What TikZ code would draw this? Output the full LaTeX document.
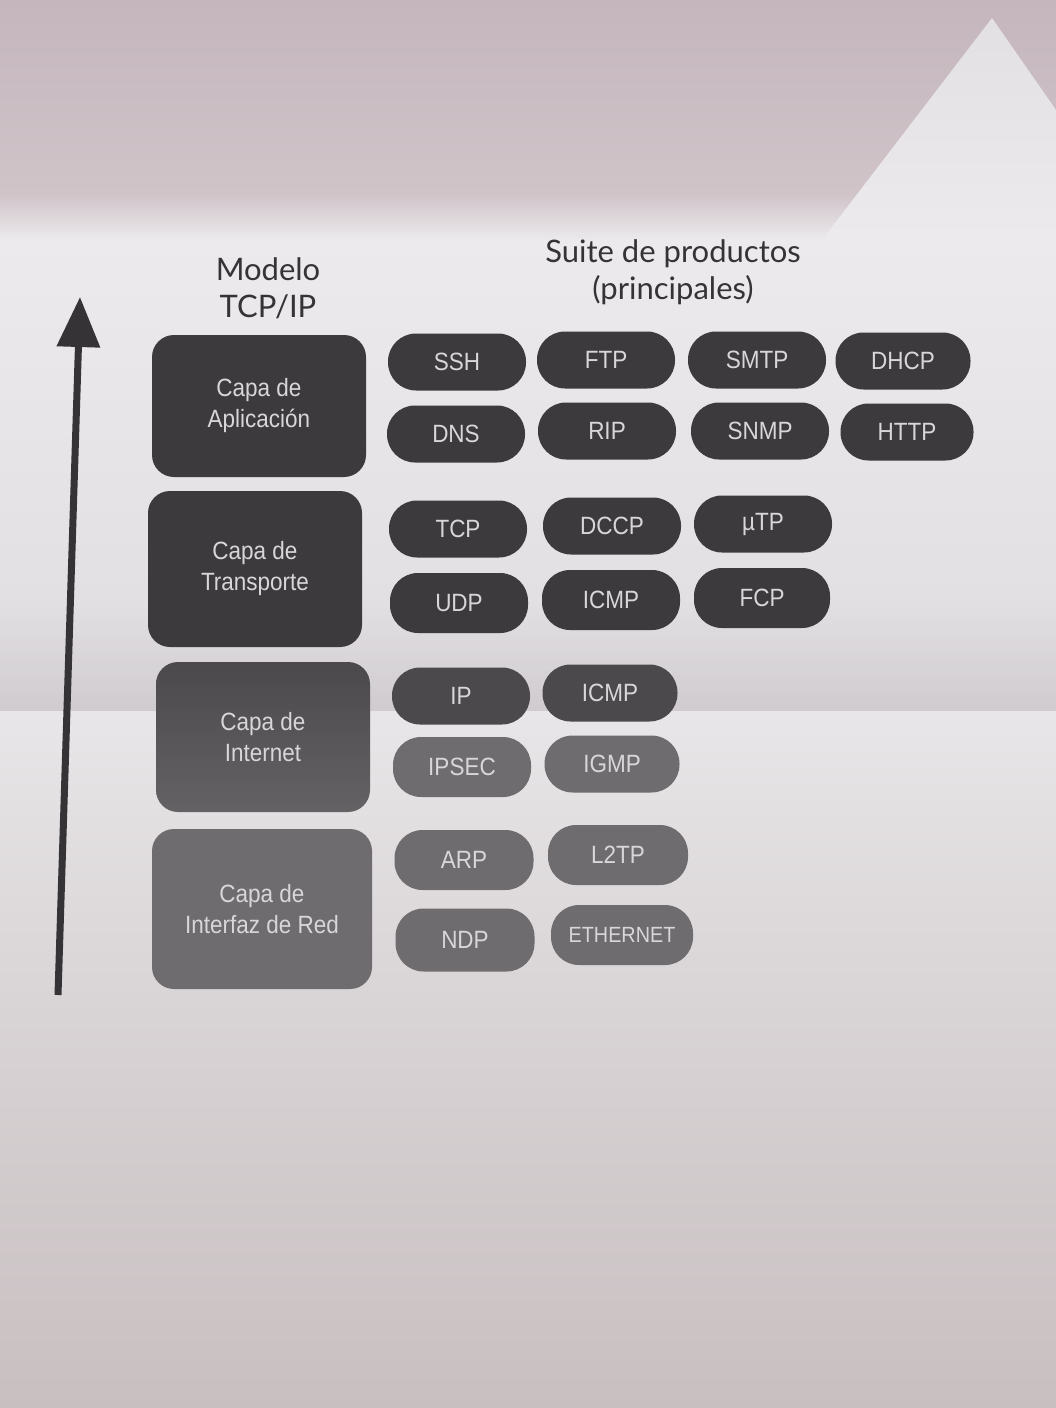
\documentclass[tikz,border=0pt]{standalone}
\usepackage{fontspec}
\setmainfont{Lato}
\newfontfamily\boxfont[FakeStretch=0.9]{Liberation Sans}
\usetikzlibrary{arrows.meta}
\definecolor{ink}{HTML}{353335}
\definecolor{dk}{HTML}{3C3A3C}
\definecolor{mdk}{HTML}{4B494B}
\definecolor{md}{HTML}{646264}
\definecolor{lt}{HTML}{6E6C6E}
\definecolor{txt}{HTML}{D8D6D8}
\definecolor{pa}{HTML}{C4B6BC}
\definecolor{pb}{HTML}{D0C4C9}
\definecolor{pc}{HTML}{ECEAEC}
\definecolor{pd}{HTML}{E3E0E3}
\definecolor{pe}{HTML}{CFCBCE}
\definecolor{pf}{HTML}{E8E6E8}
\definecolor{pg}{HTML}{D9D4D6}
\definecolor{ph}{HTML}{C8BFC0}
\tikzset{
  layer/.style={rounded corners=22pt, minimum width=214pt, inner sep=0pt, align=center,
    text=txt, font=\boxfont\fontsize{25}{31}\selectfont},
  pill/.style={rounded corners=28pt, minimum width=138pt, minimum height=57pt, inner sep=0pt,
    text=txt, font=\boxfont\fontsize{25}{30}\selectfont},
  head/.style={align=center, text=ink, font=\fontsize{31}{37}\selectfont}
}
\begin{document}
\begin{tikzpicture}[x=1pt,y=-1pt]
\useasboundingbox (0,0) rectangle (1056,1408);
% paper background (photo lighting)
\shade[top color=pa, bottom color=pb] (0,0) rectangle (1056,196);
\shade[top color=pb, bottom color=pc] (0,195) rectangle (1056,240);
\shade[top color=pc, bottom color=pd] (0,239) rectangle (1056,600);
\shade[top color=pd, bottom color=pe] (0,599) rectangle (1056,712);
\shade[top color=pf, bottom color=pg] (0,711) rectangle (1056,1000);
\shade[top color=pg, bottom color=ph] (0,999) rectangle (1056,1408);
\shade[top color=pd, bottom color=pc] (822,240) -- (992,18) -- (1056,110) -- (1056,240) -- cycle;

% headings
\node[head] (modelo) at (268,288) {Modelo\\TCP/IP};
\node[head] (suite) at (673,272) {Suite de productos\\(principales)};

% arrow
\coordinate (abot) at (58,995);
\coordinate (atop) at (80,297);
\draw[line width=7pt, ink, -{Triangle[width=42pt,length=50pt]}] (abot) -- (atop);

% layers
\node[layer, fill=dk, minimum height=142pt] (apl) at (259,406) {Capa de\\Aplicación};
\node[layer, fill=dk, minimum height=156pt] (tra) at (255,569) {Capa de\\Transporte};
\node[layer, top color=mdk, bottom color=md, minimum height=150pt] (int) at (263,737) {Capa de\\Internet};
\node[layer, fill=lt, minimum width=220pt, minimum height=160pt] (red) at (262,909) {Capa de\\Interfaz de Red};

% application
\node[pill, fill=dk] (ssh)  at (457,362) {SSH};
\node[pill, fill=dk] (ftp)  at (606,360) {FTP};
\node[pill, fill=dk] (smtp) at (757,360) {SMTP};
\node[pill, fill=dk, minimum width=135pt] (dhcp) at (903,361) {DHCP};
\node[pill, fill=dk] (dns)  at (456,434) {DNS};
\node[pill, fill=dk] (rip)  at (607,431) {RIP};
\node[pill, fill=dk] (snmp) at (760,431) {SNMP};
\node[pill, fill=dk, minimum width=133pt] (http) at (907,432) {HTTP};

% transport
\node[pill, fill=dk] (tcp)  at (458,529) {TCP};
\node[pill, fill=dk] (dccp) at (612,526) {DCCP};
\node[pill, fill=dk] (utp)  at (763,524) {µTP};
\node[pill, fill=dk, minimum height=60pt] (udp)  at (459,603) {UDP};
\node[pill, fill=dk, minimum height=60pt] (icmpt) at (611,600) {ICMP};
\node[pill, fill=dk, minimum height=60pt, minimum width=136pt] (fcp)  at (762,598) {FCP};

% internet
\node[pill, fill=mdk] (ip)   at (461,696) {IP};
\node[pill, fill=mdk, minimum width=135pt] (icmpi) at (610,693) {ICMP};
\node[pill, fill=lt, minimum height=60pt] (ipsec) at (462,767) {IPSEC};
\node[pill, fill=lt, minimum width=135pt] (igmp) at (612,764) {IGMP};

% network interface
\node[pill, fill=lt, minimum height=60pt, minimum width=139pt] (arp)  at (464,860) {ARP};
\node[pill, fill=lt, minimum height=60pt, minimum width=140pt] (l2tp) at (618,855) {L2TP};
\node[pill, fill=lt, minimum height=63pt, minimum width=139pt] (ndp)  at (465,940) {NDP};
\node[pill, fill=lt, minimum height=60pt, minimum width=142pt, font=\boxfont\fontsize{22}{26}\selectfont] (eth) at (622,935) {ETHERNET};
\end{tikzpicture}
\end{document}
